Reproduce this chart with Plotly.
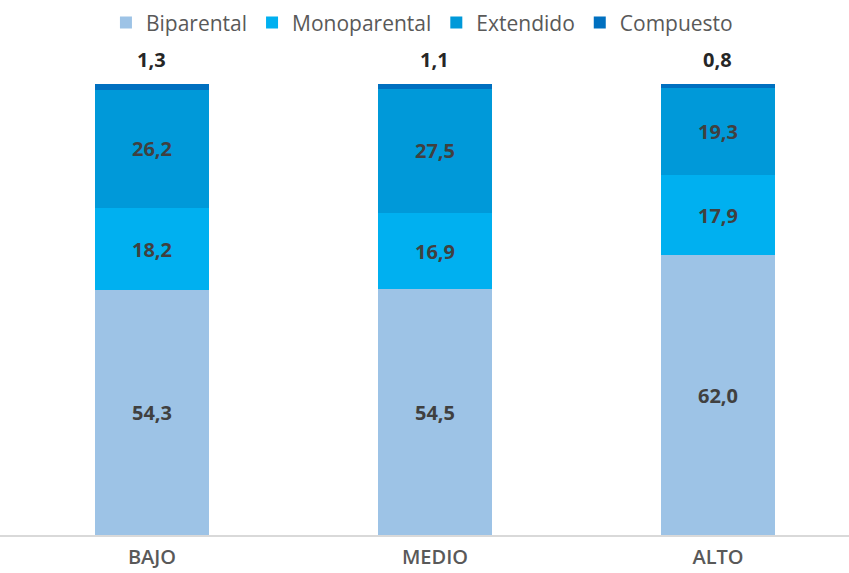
import plotly.graph_objects as go

categories = ["BAJO", "MEDIO", "ALTO"]
series_names = ["Biparental", "Monoparental", "Extendido", "Compuesto"]
biparental = [54.3, 54.5, 62.0]
monoparental = [18.2, 16.9, 17.9]
extendido = [26.2, 27.5, 19.3]
compuesto = [1.3, 1.1, 0.8]
colors = ["#9DC3E6", "#00B0F0", "#0099D9", "#0070C0"]

def fmt(v):
    return f"{v:.1f}".replace(".", ",")

xs = list(range(len(categories)))
fig = go.Figure()
all_series = [biparental, monoparental, extendido, compuesto]
for name, vals, col in zip(series_names, all_series, colors):
    inside = name != "Compuesto"
    fig.add_trace(go.Bar(
        x=xs, y=vals, name=name, marker=dict(color=col, line=dict(width=0)),
        width=0.4,
        text=[fmt(v) for v in vals] if inside else None,
        textposition="inside" if inside else "none",
        insidetextanchor="middle",
        textfont=dict(family="Open Sans", size=20, color="#404040", weight="bold"),
        hoverinfo="skip",
    ))

totals = [sum(t) for t in zip(*all_series)]
for x, tot, v in zip(xs, totals, compuesto):
    fig.add_annotation(x=x, y=tot, text=fmt(v), showarrow=False,
                       yanchor="bottom", yshift=9,
                       font=dict(family="Open Sans", size=20, color="#262626", weight="bold"))

fig.update_layout(
    width=849, height=573, barmode="stack",
    margin=dict(l=0, r=0, t=84, b=38, autoexpand=False),
    paper_bgcolor="white", plot_bgcolor="white",
    showlegend=True,
    legend=dict(orientation="h", x=0.497, xanchor="center", yref="container",
                y=0.96, yanchor="middle",
                font=dict(family="Open Sans", size=21, color="#595959"),
                itemwidth=30, traceorder="normal", itemclick=False),
    xaxis=dict(range=[-0.537, 2.463], tickvals=xs, ticktext=categories,
               showgrid=False, zeroline=False, showline=True, linecolor="#D9D9D9",
               linewidth=1.5, ticks="", ticklabelstandoff=3,
               tickfont=dict(family="Open Sans", size=20, color="#595959", weight=600)),
    yaxis=dict(range=[0, 100], visible=False),
)
fig.write_html("out.html")
